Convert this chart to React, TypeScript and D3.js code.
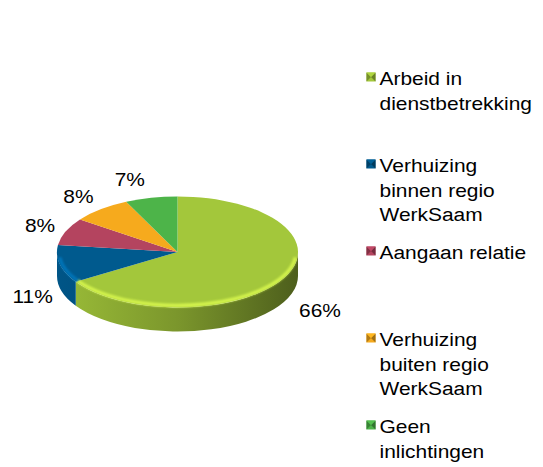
import * as d3 from "d3";

// slice values in % (clockwise from 12 o'clock)
const values = [66, 11, 8, 8, 7];
const categories = [
  "Arbeid in dienstbetrekking",
  "Verhuizing binnen regio WerkSaam",
  "Aangaan relatie",
  "Verhuizing buiten regio WerkSaam",
  "Geen inlichtingen",
];
const legendLines = [
  ["Arbeid in", "dienstbetrekking"],
  ["Verhuizing", "binnen regio", "WerkSaam"],
  ["Aangaan relatie"],
  ["Verhuizing", "buiten regio", "WerkSaam"],
  ["Geen", "inlichtingen"],
];
const colors = ["#a3c73b", "#005a8e", "#b4445f", "#f6aa1d", "#4db449"];

// layout
const W = 543;
const H = 467;
const cx = 177.5;
const cy = 252;
const rx = 120.5;
const ry = 55.5;
const depth = 24;
const FONT = "'Liberation Sans', Arial, sans-serif";
const FS = 18.7;
const SX = 1.12; // the original text is slightly stretched horizontally
// label nudges from the elliptical label ring
const labelNudge = [
  [11, 7],
  [1.5, 15.5],
  [2, -5],
  [-3.5, 0],
  [-15, 0],
];

const pt = (a: number, dy = 0) => `${cx + rx * Math.sin(a)},${cy - ry * Math.cos(a) + dy}`;

function sidePath(s: number, e: number) {
  return `M${pt(s)} A${rx},${ry} 0 0 1 ${pt(e)} L${pt(e, depth)} A${rx},${ry} 0 0 0 ${pt(s, depth)} Z`;
}

export default function App() {
  const arcs = d3.pie<number>().sort(null).value((d) => d)(values);
  const top = d3.arc<d3.PieArcDatum<number>>().innerRadius(0).outerRadius(rx);

  const legendY = d3.scaleLinear().domain([0, 4]).range([85, 433]);

  return (
    <svg
      width={W}
      height={H}
      style={{ position: "absolute", left: 0, top: 0, display: "block", background: "#fff" }}
      fontFamily={FONT}
    >
      <defs>
        {colors.map((c, i) => (
          <linearGradient key={i} id={`side-${i}`} gradientUnits="userSpaceOnUse" x1={cx - rx} x2={cx + rx} y1={0} y2={0}>
            <stop offset="0" stopColor={d3.color(c)!.darker(0.15).formatHex()} />
            <stop offset="0.5" stopColor={d3.color(c)!.darker(0.8).formatHex()} />
            <stop offset="1" stopColor={d3.color(c)!.darker(2.1).formatHex()} />
          </linearGradient>
        ))}
        <filter id="soft" x="-10%" y="-10%" width="120%" height="120%">
          <feGaussianBlur stdDeviation="0.9" />
        </filter>
      </defs>

      {/* side walls (front half only) */}
      {arcs.map((a, i) => {
        const s = Math.max(a.startAngle, Math.PI / 2);
        const e = Math.min(a.endAngle, (3 * Math.PI) / 2);
        if (e <= s) return null;
        return <path key={i} d={sidePath(s, e)} fill={`url(#side-${i})`} />;
      })}

      {/* top faces */}
      <g transform={`translate(${cx},${cy}) scale(1,${ry / rx})`}>
        {arcs.map((a, i) => (
          <path key={i} d={top(a) ?? ""} fill={colors[i]} />
        ))}
      </g>

      {/* bevel highlight along the front rim */}
      {arcs.map((a, i) => {
        const s = Math.max(a.startAngle, Math.PI / 2 + 0.1);
        const e = Math.min(a.endAngle, (3 * Math.PI) / 2 - 0.1);
        if (e <= s) return null;
        const r = 2;
        const p = (ang: number) => `${cx + (rx - r) * Math.sin(ang)},${cy - (ry - r) * Math.cos(ang)}`;
        return (
          <path
            key={i}
            d={`M${p(s)} A${rx - r},${ry - r} 0 0 1 ${p(e)}`}
            fill="none"
            stroke={d3.color(colors[i])!.brighter(0.9).formatHex()}
            strokeWidth={3.5}
            opacity={0.8}
            filter="url(#soft)"
          />
        );
      })}

      {/* percentage labels */}
      {arcs.map((a, i) => {
        const m = (a.startAngle + a.endAngle) / 2;
        const x = cx + 150 * Math.sin(m) + labelNudge[i][0];
        const y = cy + 10 - 85 * Math.cos(m) + labelNudge[i][1];
        return (
          <text
            key={i}
            transform={`translate(${x},${y + 6.7}) scale(${SX},1)`}
            textAnchor="middle"
            fontSize={FS}
            fill="#000"
          >
            {`${d3.format(".0f")(a.data)}%`}
          </text>
        );
      })}

      {/* legend */}
      {categories.map((cat, i) => {
        const y0 = legendY(i);
        const c = d3.color(colors[i])!;
        const mx = 366.5;
        const my = y0 - 12.5;
        const s = 9;
        const h = s / 2;
        return (
          <g key={cat}>
            <rect x={mx} y={my} width={s} height={s} fill={c.formatHex()} />
            <polygon points={`${mx},${my} ${mx},${my + s} ${mx + h},${my + h}`} fill={c.darker(0.9).formatHex()} />
            <polygon points={`${mx + s},${my} ${mx + s},${my + s} ${mx + h},${my + h}`} fill={c.darker(1.2).formatHex()} />
            <polygon points={`${mx},${my} ${mx + s},${my} ${mx + h},${my + h}`} fill={c.brighter(0.2).formatHex()} />
            {legendLines[i].map((line, j) => (
              <text
                key={j}
                transform={`translate(379.5,${y0 + j * 24.5}) scale(${SX},1)`}
                fontSize={FS}
                fill="#000"
              >
                {line}
              </text>
            ))}
          </g>
        );
      })}
    </svg>
  );
}
